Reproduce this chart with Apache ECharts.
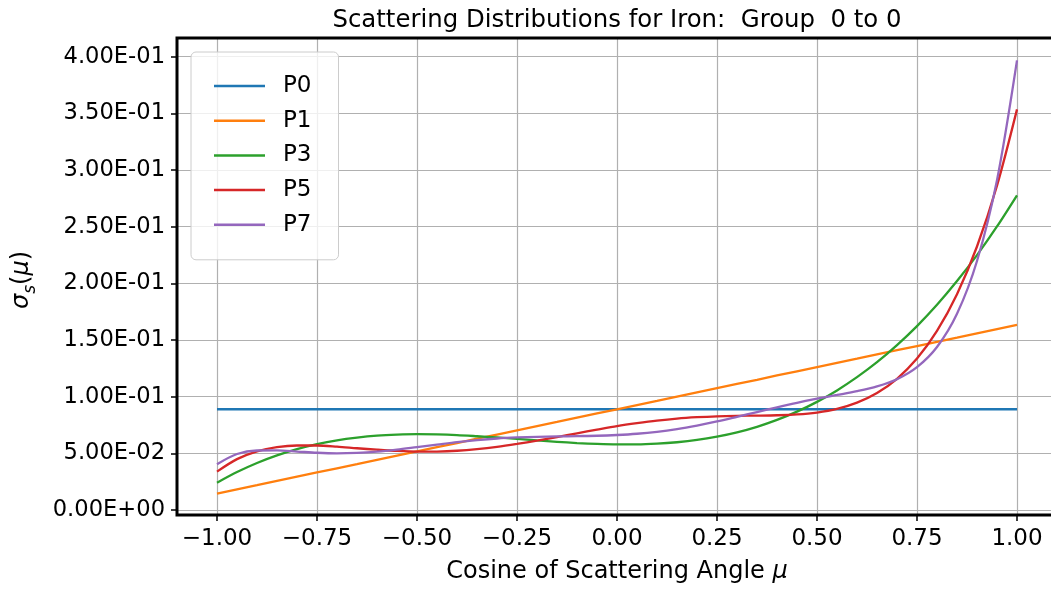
<!DOCTYPE html>
<html><head><meta charset="utf-8">
<script src="https://cdn.jsdelivr.net/npm/echarts@6/dist/echarts.min.js"></script>
<style>html,body{margin:0;padding:0;background:#fff}#c{width:1051px;height:589px}</style>
</head><body><div id="c"></div>
<script>
// ---- data ----
const mu = [-1, -0.95, -0.9, -0.85, -0.8, -0.75, -0.7, -0.65, -0.6, -0.55, -0.5, -0.45, -0.4, -0.35, -0.3, -0.25, -0.2, -0.15, -0.1, -0.05, 0, 0.05, 0.1, 0.15, 0.2, 0.25, 0.3, 0.35, 0.4, 0.45, 0.5, 0.55, 0.6, 0.65, 0.7, 0.75, 0.8, 0.85, 0.9, 0.95, 1];
const p0Mu = [-1, 1];
const p0 = [0.0889, 0.0889];
const p1 = [0.0145, 0.0182, 0.0219, 0.0257, 0.0294, 0.0331, 0.0368, 0.0405, 0.0443, 0.0480, 0.0517, 0.0554, 0.0591, 0.0629, 0.0666, 0.0703, 0.0740, 0.0777, 0.0815, 0.0852, 0.0889, 0.0926, 0.0963, 0.1001, 0.1038, 0.1075, 0.1112, 0.1149, 0.1187, 0.1224, 0.1261, 0.1298, 0.1335, 0.1373, 0.1410, 0.1447, 0.1484, 0.1521, 0.1559, 0.1596, 0.1633];
const p3 = [0.0241, 0.0335, 0.0415, 0.0482, 0.0537, 0.0581, 0.0615, 0.0639, 0.0656, 0.0665, 0.0669, 0.0667, 0.0661, 0.0651, 0.0640, 0.0627, 0.0614, 0.0602, 0.0591, 0.0583, 0.0579, 0.0579, 0.0585, 0.0598, 0.0618, 0.0647, 0.0685, 0.0734, 0.0795, 0.0868, 0.0954, 0.1055, 0.1172, 0.1304, 0.1455, 0.1623, 0.1811, 0.2020, 0.2249, 0.2502, 0.2777];
const p5 = [0.0339, 0.0449, 0.0518, 0.0555, 0.0569, 0.0569, 0.0559, 0.0545, 0.0532, 0.0521, 0.0515, 0.0516, 0.0523, 0.0537, 0.0557, 0.0583, 0.0612, 0.0644, 0.0677, 0.0709, 0.0740, 0.0766, 0.0789, 0.0807, 0.0819, 0.0827, 0.0831, 0.0833, 0.0836, 0.0843, 0.0860, 0.0892, 0.0947, 0.1032, 0.1158, 0.1336, 0.1580, 0.1904, 0.2325, 0.2862, 0.3535];
const p7 = [0.0404, 0.0494, 0.0525, 0.0526, 0.0516, 0.0505, 0.0500, 0.0504, 0.0515, 0.0533, 0.0555, 0.0577, 0.0599, 0.0617, 0.0631, 0.0640, 0.0646, 0.0649, 0.0652, 0.0655, 0.0662, 0.0673, 0.0690, 0.0714, 0.0745, 0.0781, 0.0822, 0.0864, 0.0906, 0.0946, 0.0982, 0.1015, 0.1049, 0.1091, 0.1154, 0.1260, 0.1438, 0.1731, 0.2197, 0.2911, 0.3968];
const xTicks = [-1, -0.75, -0.5, -0.25, 0, 0.25, 0.5, 0.75, 1];
const yTicks = [0, 0.05, 0.1, 0.15, 0.2, 0.25, 0.3, 0.35, 0.4];
const seriesNames = ['P0', 'P1', 'P3', 'P5', 'P7'];
const titleText = 'Scattering Distributions for Iron:  Group  0 to 0';

// ---- presentation ----
const colors = ['#1f77b4', '#ff7f0e', '#2ca02c', '#d62728', '#9467bd'];
const FONT = 'DejaVu Sans';
function fmtX(v) { return v.toFixed(2).replace('-', '\u2212'); }
function fmtY(v) {
  const s = Math.abs(v) < 1e-12 ? (0).toExponential(2) : v.toExponential(2);
  const parts = s.split('e');
  const sign = parts[1][0] === '-' ? '-' : '+';
  const d = parts[1].replace(/^[+-]/, '').padStart(2, '0');
  return parts[0] + 'E' + sign + d;
}
function pairs(xs, ys) { return xs.map((x, i) => [x, ys[i]]); }

const seriesData = [pairs(p0Mu, p0), pairs(mu, p1), pairs(mu, p3), pairs(mu, p5), pairs(mu, p7)];

const chart = echarts.init(document.getElementById('c'), null, { renderer: 'canvas' });
chart.setOption({
  animation: false,
  color: colors,
  textStyle: { fontFamily: FONT },
  grid: { left: 177, top: 38, width: 880, height: 477, containLabel: false, outerBoundsMode: 'none',
          show: true, borderColor: '#000', borderWidth: 3, backgroundColor: 'transparent', z: 3 },
  legend: {
    data: seriesNames, orient: 'vertical', left: 191, top: 52,
    icon: 'rect', itemWidth: 51, itemHeight: 2.5, itemGap: 10.7,
    padding: [22, 27, 23, 23],
    backgroundColor: 'rgba(255,255,255,0.8)', borderColor: '#cccccc', borderWidth: 1, borderRadius: 5,
    textStyle: { fontSize: 23, color: '#000', fontFamily: FONT, padding: [0, 0, 0, 13], lineHeight: 24 },
    selectedMode: false
  },
  xAxis: {
    type: 'value', min: -1.1, max: 1.1, position: 'bottom',
    axisLine: { show: false, onZero: false },
    axisTick: { show: true, customValues: xTicks, length: 6, lineStyle: { color: '#000', width: 1.5 } },
    axisLabel: { customValues: xTicks, formatter: fmtX, fontSize: 23, color: '#000', fontFamily: FONT, margin: 13 },
    splitLine: { show: true, lineStyle: { color: '#b0b0b0', width: 1.2 } }
  },
  yAxis: {
    type: 'value', min: -0.00441, max: 0.4165, position: 'left',
    axisLine: { show: false, onZero: false },
    axisTick: { show: true, customValues: yTicks, length: 6, lineStyle: { color: '#000', width: 1.5 } },
    axisLabel: { customValues: yTicks, formatter: fmtY, fontSize: 22.6, color: '#000', fontFamily: FONT, margin: 12 },
    splitLine: { show: true, lineStyle: { color: '#b0b0b0', width: 1.2 } }
  },
  series: seriesNames.map((n, i) => ({
    name: n, type: 'line', data: seriesData[i], symbol: 'none', smooth: i < 2 ? false : 0.3,
    lineStyle: { width: 2.3, color: colors[i] }, itemStyle: { color: colors[i] },
    emphasis: { disabled: true }, z: 2 + i
  })),
  graphic: [
    { type: 'text', x: 617, y: 21, z: 10, style: { text: titleText, font: '24.4px "DejaVu Sans"', fill: '#000', align: 'center', verticalAlign: 'middle' } },
    { type: 'text', x: 617, y: 572, z: 10, style: {
      text: 'Cosine of Scattering Angle {it|μ}', font: '24px "DejaVu Sans"', fill: '#000', align: 'center', verticalAlign: 'middle',
      rich: { it: { fontStyle: 'italic', fontSize: 24, fontFamily: FONT, fill: '#000' } } } },
    { type: 'text', x: 22, y: 280, rotation: Math.PI / 2, z: 10, style: {
      text: '{it|σ}{sub|s}{n|(}{it|μ}{n|)}', align: 'center', verticalAlign: 'middle',
      rich: {
        it: { fontStyle: 'italic', fontSize: 24, fontFamily: FONT, fill: '#000', lineHeight: 34, verticalAlign: 'middle' },
        n: { fontSize: 24, fontFamily: FONT, fill: '#000', lineHeight: 34, verticalAlign: 'middle' },
        sub: { fontStyle: 'italic', fontSize: 17, fontFamily: FONT, fill: '#000', lineHeight: 34, verticalAlign: 'bottom' }
      } } }
  ]
});
</script>
</body></html>
